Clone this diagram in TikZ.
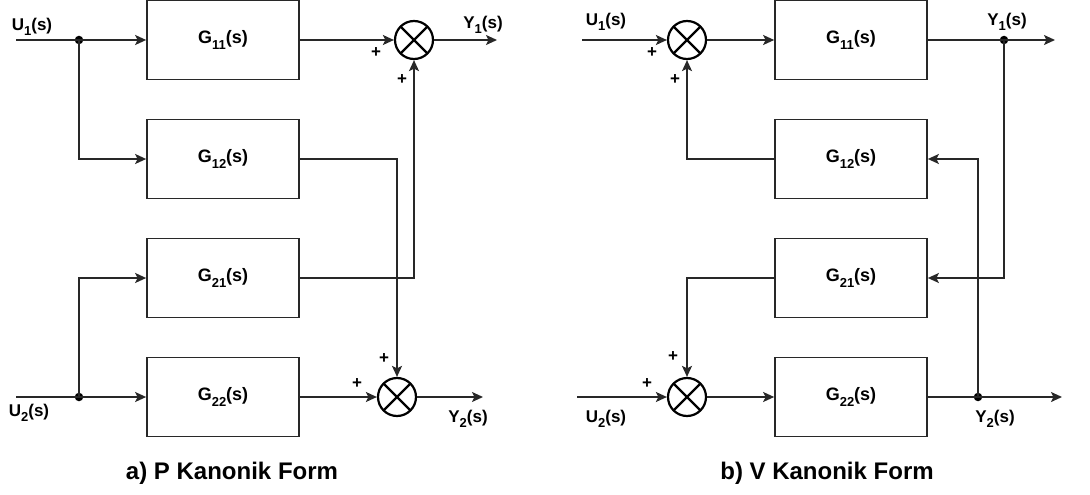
\documentclass[tikz,border=0pt]{standalone}
\usepackage{fontspec}
\setmainfont{Liberation Sans}
\usetikzlibrary{arrows.meta,positioning,calc}
\definecolor{linegray}{RGB}{40,40,40}
\newcommand{\idx}[1]{\raisebox{-0.32em}{\fontsize{13}{13}\selectfont #1}}
\tikzset{
  block/.style={
    draw=linegray,
    minimum width=152pt,
    minimum height=79pt,
    inner sep=0pt,
    line width=1.7pt,
    font=\fontsize{18}{20}\selectfont\bfseries
  },
  sum/.style={circle,draw=black,line width=2.2pt,minimum size=38pt,
              inner sep=0pt,
              path picture={
                \draw[line width=2.2pt]
                  (path picture bounding box.north west) -- (path picture bounding box.south east)
                  (path picture bounding box.north east) -- (path picture bounding box.south west);}},
  flow/.style={-{Stealth[length=11pt,width=10pt,inset=2.5pt]},line width=1.7pt,draw=linegray},
  dot/.style={circle,fill=black,minimum size=8.5pt,inner sep=0pt},
  sgn/.style={font=\fontsize{17}{17}\selectfont\bfseries,inner sep=0pt},
  lbl/.style={font=\fontsize{17}{19}\selectfont\bfseries,inner sep=0pt},
  caption/.style={font=\fontsize{24}{26}\selectfont\bfseries,inner sep=0pt}
}

\begin{document}
\begin{tikzpicture}[x=1pt,y=-1pt]
  \useasboundingbox (0,0) rectangle (1090,495);

  % a) P canonical form
  \node[block] (g11a) at (223,40) {G\idx{11}(s)};
  \node[block] (g12a) at (223,159) {G\idx{12}(s)};
  \node[block] (g21a) at (223,278) {G\idx{21}(s)};
  \node[block] (g22a) at (223,397) {G\idx{22}(s)};
  \node[sum] (suma1) at (414,40) {};
  \node[sum] (suma2) at (397,397) {};

  \coordinate (ua1) at (16,40);
  \coordinate (ua2) at (16,397);
  \node[dot] (ja1) at (79,40) {};
  \node[dot] (ja2) at (79,397) {};
  \coordinate (ya1) at (497,40);
  \coordinate (ya2) at (483,397);

  \draw[flow] (ua1) -- (g11a.west);
  \draw[flow] (ja1.center) |- (g12a.west);
  \draw[flow] (ua2) -- (g22a.west);
  \draw[flow] (ja2.center) |- (g21a.west);
  \draw[flow] (g11a.east) -- (suma1.west);
  \draw[flow] (g21a.east) -| (suma1.south);
  \draw[flow] (g12a.east) -| (suma2.north);
  \draw[flow] (g22a.east) -- (suma2.west);
  \draw[flow] (suma1.east) -- (ya1);
  \draw[flow] (suma2.east) -- (ya2);

  \node[lbl] (lua1) at (32,27) {U\idx{1}(s)};
  \node[lbl] (lua2) at (29,413) {U\idx{2}(s)};
  \node[lbl] (lya1) at (483,25) {Y\idx{1}(s)};
  \node[lbl] (lya2) at (468,419) {Y\idx{2}(s)};
  \node[sgn] (pa1) at (376,53) {+};
  \node[sgn] (pa2) at (402,80) {+};
  \node[sgn] (pa3) at (357,384) {+};
  \node[sgn] (pa4) at (384,359) {+};
  \node[caption] (capa) at (232,473) {a) P Kanonik Form};

  % b) V canonical form
  \node[block] (g11b) at (851,40) {G\idx{11}(s)};
  \node[block] (g12b) at (851,159) {G\idx{12}(s)};
  \node[block] (g21b) at (851,278) {G\idx{21}(s)};
  \node[block] (g22b) at (851,397) {G\idx{22}(s)};
  \node[sum] (sumb1) at (687,40) {};
  \node[sum] (sumb2) at (687,397) {};

  \coordinate (ub1) at (582,40);
  \coordinate (ub2) at (577,397);
  \node[dot] (jb1) at (1004,40) {};
  \node[dot] (jb2) at (978,397) {};
  \coordinate (yb1) at (1055,40);
  \coordinate (yb2) at (1062,397);

  \draw[flow] (ub1) -- (sumb1.west);
  \draw[flow] (ub2) -- (sumb2.west);
  \draw[flow] (sumb1.east) -- (g11b.west);
  \draw[flow] (sumb2.east) -- (g22b.west);
  \draw[flow] (g11b.east) -- (yb1);
  \draw[flow] (g22b.east) -- (yb2);
  \draw[flow] (jb1.center) |- (g21b.east);
  \draw[flow] (jb2.center) |- (g12b.east);
  \draw[flow] (g12b.west) -| (sumb1.south);
  \draw[flow] (g21b.west) -| (sumb2.north);

  \node[lbl] (lub1) at (606,22) {U\idx{1}(s)};
  \node[lbl] (lub2) at (606,419) {U\idx{2}(s)};
  \node[lbl] (lyb1) at (1007,22) {Y\idx{1}(s)};
  \node[lbl] (lyb2) at (995,419) {Y\idx{2}(s)};
  \node[sgn] (pb1) at (652,53) {+};
  \node[sgn] (pb2) at (675,80) {+};
  \node[sgn] (pb3) at (647,384) {+};
  \node[sgn] (pb4) at (673,357) {+};
  \node[caption] (capb) at (827,473) {b) V Kanonik Form};
\end{tikzpicture}
\end{document}
